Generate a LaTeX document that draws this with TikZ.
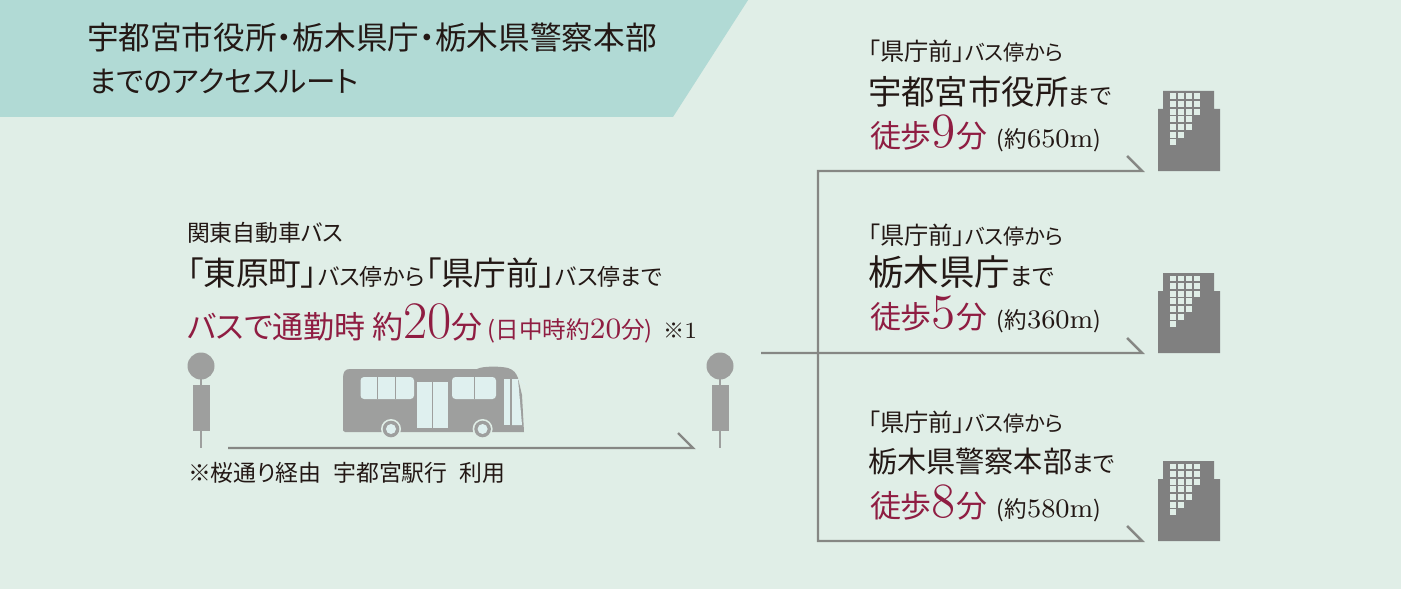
\documentclass[tikz,border=0pt]{standalone}
\usepackage{fontspec}
\newfontfamily\jp[RawFeature={+palt}]{Noto Sans CJK JP}
\usepackage{tikz}
\usetikzlibrary{positioning}
\definecolor{paper}{HTML}{E0EEE7}
\definecolor{banner}{HTML}{B1DAD5}
\definecolor{wine}{HTML}{8F1D42}
\definecolor{ink}{HTML}{231815}
\definecolor{routegray}{HTML}{868784}
\definecolor{stopgray}{HTML}{9E9F9E}
\definecolor{towergray}{HTML}{808080}
\definecolor{glass}{HTML}{DFF0EF}
\newcommand{\fs}[1]{\fontsize{#1}{#1}\selectfont}
\newcommand{\dg}[2]{{\rmfamily\fontsize{#1}{#1}\selectfont #2}}

% bus stop: name, x
\newcommand{\busstop}[2]{
  \draw [stopgray, line width=0.55pt] (#2,366) -- (#2,448);
  \fill [stopgray] (#2,366) circle (13.5);
  \fill [stopgray] (#2-8.5,385) rectangle (#2+8.5,431);
  \coordinate (#1) at (#2,448);
}
% office tower: name, y of the ground line
\newcommand{\tower}[2]{
  \fill [towergray] (1158,#2) -- (1158,#2-62) -- (1163,#2-62) -- (1163,#2-80)
    -- (1214,#2-80) -- (1214,#2-62) -- (1220,#2-62) -- (1220,#2) -- cycle;
  \foreach \row/\cols in {0/4,1/4,2/4,3/3,4/3,5/2,6/1} {
    \foreach \col in {1,...,\cols} {
      \fill [paper] (1162+8*\col,#2-77.5+7.65*\row) rectangle ++(5.8,5.8);
    }
  }
  \coordinate (#1) at (1142,#2);
}

\begin{document}
\begin{tikzpicture}[
    x=0.01cm, y=-0.01cm,
    font=\jp\color{ink},
    txt/.style={anchor=base west, inner sep=0pt, outer sep=0pt},
    redtxt/.style={txt, text=wine},
    route/.style={draw=routegray, line width=0.7pt, line join=miter}
  ]
  \useasboundingbox (0,0) rectangle (1401,588);
  \fill [paper] (-3,-3) rectangle (1404,591);
  \fill [banner] (-3,-3) -- (750,-3) -- (673,117) -- (-3,117) -- cycle;

  % heading
  \node [txt] (head1) at (87,50) {\fs{9}宇都宮市役所・栃木県庁・栃木県警察本部};
  \node [txt] (head2) at (89,93) {\fs{8.4}までのアクセスルート};

  % bus part
  \node [txt] (company) at (187,241) {\fs{6.5}関東自動車バス};
  \node [txt] (busleg) at (187,285) {\fs{9.3}「東原町」\fs{6.5}バス停から\fs{9.3}「県庁前」\fs{6.5}バス停まで};
  \node [redtxt] (bustime) at (187,338) {\fs{8.8}バスで通勤時 約\dg{15}{20}\fs{8.8}分\hspace{0.5mm}\fs{6.7}(日中時約\dg{8.4}{20}\fs{6.7}分)};
  \node [txt] (busnote) at (663,338) {\fs{6}※\dg{6.6}{1}};
  \node [txt] (via) at (188,481) {\fs{6.5}※桜通り経由\hspace{1.2mm}宇都宮駅行\hspace{1.2mm}利用};

  \busstop{stopA}{201}
  \busstop{stopB}{720}

  % the bus
  \fill [stopgray] (345,432) .. controls (343,432) and (343,430) .. (343,428) -- (343,378)
    .. controls (343,372) and (345,369) .. (350,369) -- (477,369)
    .. controls (482,366) and (500,366) .. (508,368)
    .. controls (514,370) and (516,373) .. (518,378)
    -- (522,395) -- (524,432) -- cycle;
  \fill [glass, rounded corners=1] (360.5,377) rectangle (414,399);
  \fill [stopgray] (376.5,377) rectangle (377.5,399);
  \fill [stopgray] (394.5,377) rectangle (395.5,399);
  \fill [glass] (417,382) rectangle (447.5,428);
  \fill [stopgray] (432,382) rectangle (433,428);
  \fill [glass, rounded corners=1] (452,377) rectangle (496,399);
  \fill [stopgray] (473.5,377) rectangle (474.5,399);
  \fill [glass] (504,379) rectangle (510,425);
  \fill [glass] (512,379) -- (518,379) -- (522,425) -- (512,425) -- cycle;
  \draw [glass, line width=0.15pt] (518,379) -- (526,385);
  \foreach \wheelx in {391,482.6} {
    \fill [paper] (\wheelx,429) circle (10);
    \fill [stopgray] (\wheelx,429) circle (8.3);
    \fill [glass] (\wheelx,429) circle (5);
  }

  \coordinate (busfrom) at (228,448);
  \coordinate (busto) at (693,448);
  \draw [route] (busfrom) -- (busto) -- ++(-15,-15);

  % walking part
  \tower{officeA}{171}
  \tower{officeB}{353}
  \tower{officeC}{541}

  \coordinate (start) at (761,353);
  \coordinate (fork) at (818,353);
  \draw [route] (start) -- (officeB) -- ++(-15,-15);
  \draw [route] (fork) |- (officeA) -- ++(-15,-15);
  \draw [route] (fork) |- (officeC) -- ++(-15,-15);

  \node [txt] (fromA) at (868,61) {\fs{6.9}「県庁前」\fs{6}バス停から};
  \node [txt] (goalA) at (868,104) {\fs{9.5}宇都宮市役所\fs{6.6}まで};
  \node [txt] (walkA) at (870,147) {\color{wine}\fs{8.8}徒歩\dg{14}{9}\fs{8.8}分\hspace{1mm}\color{ink}\fs{6.4}(約\dg{7.6}{650m})};

  \node [txt] (fromB) at (868,244) {\fs{6.9}「県庁前」\fs{6}バス停から};
  \node [txt] (goalB) at (868,285) {\fs{10.1}栃木県庁\fs{6.8}まで};
  \node [txt] (walkB) at (870,328) {\color{wine}\fs{8.8}徒歩\dg{14}{5}\fs{8.8}分\hspace{1mm}\color{ink}\fs{6.4}(約\dg{7.6}{360m})};

  \node [txt] (fromC) at (868,431) {\fs{6.9}「県庁前」\fs{6}バス停から};
  \node [txt] (goalC) at (868,472) {\fs{8.3}栃木県警察本部\fs{6.6}まで};
  \node [txt] (walkC) at (870,517) {\color{wine}\fs{8.8}徒歩\dg{14}{8}\fs{8.8}分\hspace{1mm}\color{ink}\fs{6.4}(約\dg{7.6}{580m})};
\end{tikzpicture}
\end{document}
